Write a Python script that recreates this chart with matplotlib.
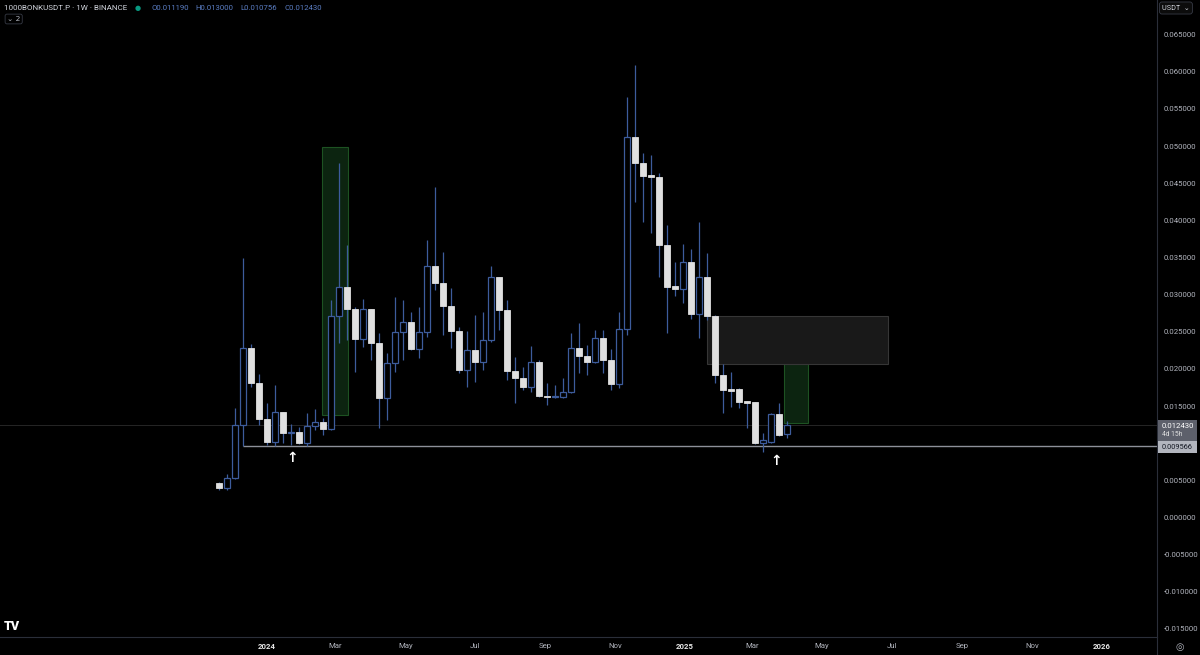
import numpy as np
import pandas as pd
import matplotlib
matplotlib.use("Agg")
import matplotlib.pyplot as plt
import matplotlib.dates as mdates
from matplotlib.patches import Rectangle

plt.rcParams["font.family"] = ["Roboto", "DejaVu Sans"]

# --- data: weekly candles 1000BONKUSDT.P (Binance) ---
first_week = "2023-11-20"
opens = [0.00468, 0.00397, 0.00532, 0.01245, 0.02281, 0.01810, 0.01326, 0.01016, 0.01420, 0.01137,
         0.01151, 0.01003, 0.01232, 0.01285, 0.01191, 0.02712, 0.03103, 0.02806, 0.02403, 0.02806,
         0.02349, 0.01608, 0.02080, 0.02497, 0.02631, 0.02268, 0.02497, 0.03385, 0.03156, 0.02847,
         0.02510, 0.01985, 0.02255, 0.02093, 0.02389, 0.03237, 0.02793, 0.01972, 0.01878, 0.01757,
         0.02093, 0.01635, 0.01622, 0.01622, 0.01689, 0.02281, 0.02174, 0.02093, 0.02416, 0.02120,
         0.01797, 0.02537, 0.05122, 0.04772, 0.04610, 0.04583, 0.03668, 0.03116, 0.03076, 0.03439,
         0.02739, 0.03237, 0.02712, 0.01918, 0.01730, 0.01730, 0.01568, 0.01555, 0.01003, 0.01016,
         0.01393, 0.011190]
highs = [0.00478, 0.00585, 0.01474, 0.03493, 0.02335, 0.01932, 0.01541, 0.01783, 0.01420, 0.01259,
         0.01218, 0.01407, 0.01460, 0.01339, 0.02928, 0.04772, 0.03668, 0.02833, 0.02941, 0.02810,
         0.02483, 0.02214, 0.02968, 0.02928, 0.02766, 0.02833, 0.03735, 0.04449, 0.03574, 0.03089,
         0.02564, 0.02510, 0.02726, 0.02766, 0.03385, 0.03240, 0.02928, 0.02160, 0.02026, 0.02308,
         0.02120, 0.01810, 0.01783, 0.01878, 0.02483, 0.02618, 0.02322, 0.02524, 0.02524, 0.02268,
         0.02766, 0.05660, 0.06091, 0.04906, 0.04879, 0.04637, 0.03937, 0.03439, 0.03681, 0.03614,
         0.03977, 0.03560, 0.02720, 0.02066, 0.01958, 0.01740, 0.01570, 0.01560, 0.01137, 0.01407,
         0.01541, 0.013000]
lows = [0.00370, 0.00370, 0.00520, 0.009566, 0.01757, 0.01245, 0.00970, 0.00960, 0.01003, 0.00976,
        0.00989, 0.00962, 0.01178, 0.01110, 0.01178, 0.02349, 0.02389, 0.01958, 0.02295, 0.02120,
        0.01205, 0.01312, 0.01958, 0.02120, 0.02255, 0.02147, 0.02430, 0.03062, 0.02456, 0.02281,
        0.01945, 0.01757, 0.01824, 0.01985, 0.02360, 0.02524, 0.01851, 0.01541, 0.01716, 0.01689,
        0.01622, 0.01514, 0.01608, 0.01610, 0.01680, 0.01945, 0.01918, 0.02080, 0.01945, 0.01716,
        0.01743, 0.02456, 0.04247, 0.03977, 0.03829, 0.03237, 0.02483, 0.02981, 0.02887, 0.02672,
        0.02416, 0.02658, 0.01810, 0.01407, 0.01487, 0.01474, 0.01205, 0.00990, 0.00882, 0.01000,
        0.01100, 0.010756]
closes = [0.00397, 0.00532, 0.01245, 0.02281, 0.01810, 0.01326, 0.01016, 0.01420, 0.01137, 0.01151,
          0.01003, 0.01232, 0.01285, 0.01191, 0.02712, 0.03103, 0.02806, 0.02403, 0.02806, 0.02349,
          0.01608, 0.02080, 0.02497, 0.02631, 0.02268, 0.02497, 0.03385, 0.03156, 0.02847, 0.02510,
          0.01985, 0.02255, 0.02093, 0.02389, 0.03237, 0.02793, 0.01972, 0.01878, 0.01757, 0.02093,
          0.01635, 0.01622, 0.01635, 0.01689, 0.02281, 0.02174, 0.02093, 0.02416, 0.02120, 0.01797,
          0.02537, 0.05122, 0.04772, 0.04597, 0.04583, 0.03668, 0.03103, 0.03076, 0.03439, 0.02739,
          0.03237, 0.02712, 0.01918, 0.01716, 0.01703, 0.01555, 0.01541, 0.01003, 0.01043, 0.01393,
          0.01110, 0.012430]

support_level = 0.009566
last_price = 0.012430

# drawn zones: (start, end, low, high)
green_zone_1 = ("2024-02-18", "2024-03-12", 0.0138, 0.0499)
green_zone_2 = ("2025-03-29", "2025-04-19", 0.01272, 0.0216)
grey_zone = ("2025-01-20", "2025-06-28", 0.02066, 0.02712)
arrow_marks = [("2024-01-23", 0.0080), ("2025-03-22", 0.0076)]

# 0.010 label is hidden under the price-line labels in the original
y_ticks = [-0.015, -0.010, -0.005, 0.0, 0.005, 0.015, 0.020, 0.025, 0.030,
           0.035, 0.040, 0.045, 0.050, 0.055, 0.060, 0.065]
x_tick_dates = ["2024-01-01", "2024-03-01", "2024-05-01", "2024-07-01", "2024-09-01", "2024-11-01",
                "2025-01-01", "2025-03-01", "2025-05-01", "2025-07-01", "2025-09-01", "2025-11-01",
                "2026-01-01"]
x_tick_labels = ["2024", "Mar", "May", "Jul", "Sep", "Nov",
                 "2025", "Mar", "May", "Jul", "Sep", "Nov", "2026"]

BG = "#000000"
UP_EDGE = "#3d5c9c"
DOWN_FILL = "#e0e0e0"
TXT = "#b2b5be"
FS = 5.6

W, H = 1200, 655
fig = plt.figure(figsize=(12, 6.55), dpi=100, facecolor=BG)
ax = fig.add_axes([0, 18 / H, 1157 / W, 637 / H], facecolor=BG)

dates = mdates.date2num(pd.date_range(first_week, periods=len(opens), freq="7D"))
d = mdates.date2num


def zone(z, fc, ec):
    x0, x1 = d(pd.Timestamp(z[0])), d(pd.Timestamp(z[1]))
    ax.add_patch(Rectangle((x0, z[2]), x1 - x0, z[3] - z[2], facecolor=fc,
                           edgecolor=ec, lw=0.8, zorder=1))


zone(green_zone_1, "#0c2410", "#1d5222")
zone(green_zone_2, "#0c2410", "#1d5222")
zone(grey_zone, "#191919", "#363636")

# current price + support line
ax.axhline(last_price, color="#262626", lw=0.7, zorder=1.5)
xmin = d(pd.Timestamp("2024-01-01")) - 233.8
xmax = d(pd.Timestamp("2024-01-01")) + 779.3
ax.hlines(support_level, dates[3], xmax, color="#8d9099", lw=1.0, zorder=1.6)

# candles
bw = 5.2
for x, o, h, l, c in zip(dates, opens, highs, lows, closes):
    ax.vlines(x, l, h, color=UP_EDGE, lw=0.9, zorder=2)
    lo, hi = min(o, c), max(o, c)
    if c >= o:
        ax.add_patch(Rectangle((x - bw / 2, lo), bw, max(hi - lo, 0.00006),
                               facecolor=BG, edgecolor=UP_EDGE, lw=0.9, zorder=3))
    else:
        ax.add_patch(Rectangle((x - bw / 2, lo), bw, max(hi - lo, 0.00006),
                               facecolor=DOWN_FILL, edgecolor=DOWN_FILL, lw=0.6, zorder=3))

for ds, yv in arrow_marks:
    ax.text(d(pd.Timestamp(ds)), yv, "↑", color="white", fontsize=10, fontweight="bold",
            family="DejaVu Sans", ha="center", va="center", zorder=5)

ax.set_xlim(xmin, xmax)
ax.set_ylim(-0.01608, 0.06967)

ax.yaxis.tick_right()
ax.set_yticks(y_ticks)
ax.set_yticklabels([f"{v:.6f}" for v in y_ticks])
ax.tick_params(axis="y", length=0, pad=5, labelsize=FS, labelcolor=TXT)

ax.set_xticks([d(pd.Timestamp(s)) for s in x_tick_dates])
ax.set_xticklabels(x_tick_labels)
ax.tick_params(axis="x", length=0, pad=4, labelsize=FS, labelcolor=TXT)
for lab in ax.get_xticklabels():
    if lab.get_text().isdigit():
        lab.set_color("#e8e8e8")
        lab.set_fontweight("bold")

for s in ["top", "left"]:
    ax.spines[s].set_visible(False)
for s in ["bottom", "right"]:
    ax.spines[s].set_color("#2a2e39")
    ax.spines[s].set_linewidth(0.8)
fig.add_artist(plt.Line2D([1157 / W, 1157 / W], [0, 18 / H], color="#2a2e39", lw=0.8))


def fx(px):
    return px / W


def fy(py):
    return 1 - py / H


# price labels on the axis
fig.add_artist(Rectangle((fx(1158), fy(441)), fx(39), 21 / H, facecolor="#5d606b",
                         edgecolor="none", transform=fig.transFigure))
fig.text(fx(1162), fy(425.5), f"{last_price:.6f}", color="white", fontsize=FS, va="center")
fig.text(fx(1162), fy(434.5), "4d 15h", color="#e0e0e0", fontsize=4.9, va="center")
fig.add_artist(Rectangle((fx(1158), fy(453)), fx(39), 12 / H, facecolor="#b2b5be",
                         edgecolor="none", transform=fig.transFigure))
fig.text(fx(1162), fy(447.5), f"{support_level:.6f}", color="#131722", fontsize=5.3, va="center")

# header
fig.text(fx(4), fy(8), "1000BONKUSDT.P · 1W · BINANCE", color="#d1d4dc", fontsize=5.8, va="center")
fig.text(fx(138), fy(8), "●", color="#089981", fontsize=5, va="center", ha="center",
         family="DejaVu Sans")
ohlc = [("O", opens[-1]), ("H", highs[-1]), ("L", lows[-1]), ("C", closes[-1])]
xpos = 151
for k, v in ohlc:
    fig.text(fx(xpos), fy(8), f"{k}{v:.6f}", color="#5b7ec4", fontsize=FS, va="center")
    xpos += 44.5
fig.text(fx(7), fy(19), "⌄ 2", color="#b2b5be", fontsize=5.4, va="center", family="DejaVu Sans",
         bbox=dict(boxstyle="round,pad=0.25", fc=BG, ec="#363a45", lw=0.6))
fig.text(fx(1162), fy(8), "USDT  ⌄", color="#d1d4dc", fontsize=5.2, va="center",
         family=["Roboto", "DejaVu Sans"],
         bbox=dict(boxstyle="round,pad=0.35", fc="#0c0c0c", ec="#363a45", lw=0.6))

# bottom corner marks
fig.text(fx(4), fy(627), "TV", color="white", fontsize=9, fontweight="heavy", va="center")
fig.text(fx(1180), fy(647), "◎", color=TXT, fontsize=7, va="center", ha="center",
         family="DejaVu Sans")

fig.savefig("out.png", dpi=100, facecolor=BG)
